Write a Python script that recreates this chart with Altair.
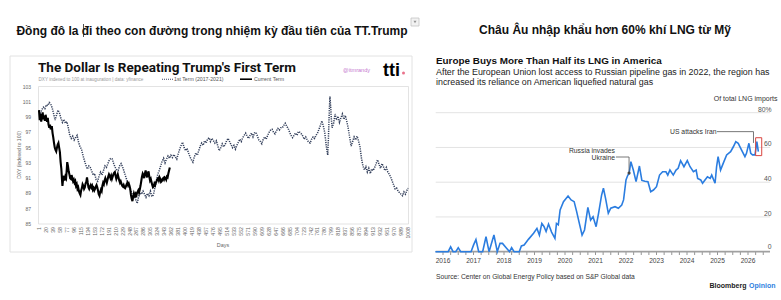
import altair as alt
import pandas as pd

SANS = "Liberation Sans, Arial, Helvetica, sans-serif"
ROBOTO = "Roboto, Liberation Sans, Arial, sans-serif"

# ---------------- DXY indexed to 100 at inauguration ----------------
first_days = [1, 5, 9, 13, 17, 21, 25, 29, 33, 37, 41, 45, 49, 53, 57, 61, 65, 69, 73, 77,
              81, 85, 89, 93, 97, 101, 105, 109, 113, 117, 121, 125, 129, 133, 137, 141, 145, 149, 153, 157,
              161, 165, 169, 173, 177, 181, 185, 189, 193, 197, 201, 205, 209, 213, 217, 221, 225, 229, 233, 237,
              241, 245, 249, 253, 257, 261, 265, 269, 273, 277, 281, 285, 289, 293, 297, 301, 305, 309, 313, 317,
              321, 325, 329, 333, 337, 341, 345, 349, 353, 357, 361, 365, 369, 373, 377, 381, 385, 389, 393, 397,
              401, 405, 409, 413, 417, 421, 425, 429, 433, 437, 441, 445, 449, 453, 457, 461, 465, 469, 473, 477,
              481, 485, 489, 493, 497, 501, 505, 509, 513, 517, 521, 525, 529, 533, 537, 541, 545, 549, 553, 557,
              561, 565, 569, 573, 577, 581, 585, 589, 593, 597, 601, 605, 609, 613, 617, 621, 625, 629, 633, 637,
              641, 645, 649, 653, 657, 661, 665, 669, 673, 677, 681, 685, 689, 693, 697, 701, 705, 709, 713, 717,
              721, 725, 729, 733, 737, 741, 745, 749, 753, 757, 761, 765, 769, 773, 777, 781, 785, 789, 791, 793,
              795, 797, 799, 801, 805, 809, 813, 817, 821, 825, 829, 833, 837, 841, 845, 849, 853, 857, 861, 865,
              869, 873, 877, 881, 885, 889, 893, 897, 901, 905, 909, 913, 917, 921, 925, 929, 933, 937, 941, 945,
              949, 953, 957, 961, 965, 969, 973, 977, 981, 985, 989, 993, 997, 1001, 1005, 1008]
first_vals = [99.8, 99.5, 100.0, 100.3, 100.1, 100.6, 100.5, 100.9, 100.7, 100.2, 99.4, 98.6, 99.3, 99.9, 99.5, 98.8, 98.3, 98.7, 98.2, 98.4,
              97.6, 96.6, 96.2, 96.5, 96.0, 96.3, 96.6, 95.7, 95.1, 94.8, 94.0, 93.3, 92.7, 92.2, 92.6, 92.4, 91.9, 91.4, 91.6, 90.8,
              90.6, 91.3, 91.8, 91.4, 92.0, 92.6, 92.4, 92.9, 93.4, 93.6, 93.5, 92.9, 92.4, 92.1, 92.0, 92.6, 92.9, 92.5, 91.9, 91.3,
              90.7, 90.1, 89.6, 89.2, 88.6, 88.9, 88.2, 87.7, 88.6, 89.1, 88.9, 89.3, 88.9, 88.5, 89.0, 88.7, 89.3, 88.6, 88.8, 89.7,
              90.6, 91.5, 92.0, 92.6, 93.2, 93.6, 93.0, 93.5, 93.9, 93.6, 94.0, 93.7, 94.1, 93.8, 93.5, 94.2, 94.8, 95.3, 95.7, 95.0,
              94.6, 94.9, 94.3, 93.8, 93.4, 93.1, 93.8, 94.3, 94.0, 94.6, 95.2, 95.6, 95.3, 95.9, 95.6, 96.1, 96.3, 95.8, 96.2, 95.9,
              95.6, 95.9, 95.2, 94.6, 95.0, 95.5, 95.1, 95.4, 95.9, 96.2, 95.8, 95.4, 95.0, 95.3, 94.8, 95.3, 95.7, 96.1, 95.8, 96.3,
              96.6, 96.9, 96.5, 96.2, 96.6, 96.9, 96.4, 96.9, 97.0, 96.5, 96.0, 95.8, 95.5, 96.1, 96.4, 96.1, 96.6, 97.0, 97.3, 97.4,
              97.0, 96.8, 97.2, 97.5, 97.3, 97.6, 97.6, 97.9, 98.2, 97.8, 97.5, 97.0, 96.6, 96.3, 96.6, 96.9, 96.6, 97.1, 97.0, 96.8,
              96.5, 96.1, 96.4, 96.0, 95.7, 95.6, 96.1, 96.4, 96.2, 96.6, 96.9, 97.4, 97.9, 98.5, 97.8, 96.9, 95.2, 94.0, 96.5, 99.5,
              101.7, 100.3, 98.6, 97.6, 98.2, 99.4, 98.6, 99.1, 98.3, 98.9, 99.4, 98.7, 99.2, 98.4, 97.5, 96.3, 95.2, 95.8, 96.4, 96.0,
              96.5, 95.9, 95.1, 93.6, 92.6, 92.1, 92.5, 91.8, 92.3, 91.6, 92.2, 92.0, 92.4, 92.9, 93.4, 92.8, 92.3, 92.9, 92.5, 92.0,
              92.4, 91.8, 91.5, 91.1, 90.6, 90.1, 89.6, 89.7, 89.3, 89.1, 88.9, 88.7, 89.2, 88.9, 89.4, 89.7]

curr_days = [1, 3, 5, 7, 9, 11, 13, 15, 17, 19, 21, 23, 25, 27, 29, 31, 33, 36, 38, 40,
             42, 44, 46, 48, 50, 52, 54, 56, 58, 60, 62, 64, 65, 67, 69, 71, 73, 75, 77, 78,
             80, 82, 84, 86, 88, 90, 92, 94, 96, 98, 100, 102, 104, 106, 108, 110, 112, 114, 116, 118,
             120, 122, 124, 126, 128, 130, 132, 134, 136, 138, 140, 142, 144, 146, 148, 150, 152, 154, 156, 158,
             160, 162, 164, 166, 168, 170, 172, 174, 176, 178, 180, 182, 184, 186, 188, 190, 192, 194, 196, 198,
             200, 202, 204, 206, 208, 210, 212, 214, 216, 218, 220, 222, 224, 226, 228, 230, 232, 234, 236, 238,
             240, 242, 244, 246, 248, 250, 252, 254, 256, 258, 260, 262, 264, 266, 268, 270, 272, 274, 276, 278,
             280, 282, 284, 286, 288, 290, 292, 294, 296, 298, 300, 302, 304, 306, 308, 310, 312, 314, 316, 318,
             320, 322, 324, 326, 328, 330, 332, 334, 336, 338, 340, 342, 344, 346, 348, 350, 352, 354, 356, 358]
curr_vals = [99.9, 98.6, 99.4, 98.4, 99.0, 99.6, 98.7, 99.2, 98.5, 99.3, 98.8, 98.4, 98.9, 98.0, 97.6, 98.0, 97.4, 97.8, 96.9, 96.3,
             95.6, 95.0, 94.7, 94.5, 95.0, 95.4, 95.6, 95.0, 94.4, 93.1, 92.2, 90.6, 90.0, 91.0, 91.3, 90.7, 91.2, 91.0, 92.3, 93.1,
             92.6, 91.9, 91.5, 91.0, 90.9, 91.4, 91.0, 90.6, 90.8, 90.4, 90.6, 90.0, 90.2, 89.6, 89.8, 89.3, 89.0, 88.8, 89.4, 89.7,
             90.2, 90.0, 89.6, 89.8, 90.3, 90.5, 91.1, 90.4, 89.8, 89.6, 89.9, 90.1, 89.8, 90.0, 89.5, 89.7, 89.4, 89.6, 89.9, 90.1,
             89.8, 89.4, 88.9, 88.7, 89.2, 89.5, 89.3, 90.0, 90.4, 90.2, 90.7, 91.0, 90.7, 90.4, 90.8, 91.2, 91.5, 91.3, 91.0, 91.3,
             90.9, 91.2, 91.5, 91.7, 91.8, 91.3, 90.9, 91.2, 91.5, 91.1, 90.7, 90.4, 90.6, 90.3, 90.0, 89.9, 90.1, 89.8, 89.7, 89.9,
             90.2, 90.4, 90.1, 90.3, 90.0, 89.6, 88.8, 88.3, 88.0, 88.6, 89.0, 88.7, 88.9, 88.5, 89.0, 89.2, 89.4, 89.1, 89.5, 90.0,
             90.6, 91.2, 91.6, 91.4, 91.0, 91.6, 92.0, 91.5, 91.1, 91.6, 91.9, 91.2, 90.7, 90.9, 90.5, 90.1, 89.8, 89.9, 90.3, 90.1,
             90.4, 90.6, 90.9, 91.0, 90.7, 91.1, 90.9, 90.5, 90.6, 90.9, 91.0, 90.8, 91.1, 91.0, 90.8, 91.2, 91.1, 91.6, 92.0, 92.4]

dxy_ticks = [85, 87, 89, 91, 93, 95, 97, 99, 101, 103]
day_ticks = [1, 20, 39, 58, 77, 96, 115, 134, 153, 172, 191, 210, 229, 248, 267, 286, 305, 324,
             343, 362, 381, 400, 419, 438, 457, 476, 495, 514, 533, 552, 571, 590, 609, 628, 647, 666,
             685, 704, 723, 742, 761, 780, 799, 818, 837, 856, 875, 894, 913, 932, 951, 970, 989, 1008]

# ---------------- Europe's LNG imports from the US (share, %) ----------------
lng_year = [2015.75, 2016.0, 2016.17, 2016.25, 2016.33, 2016.42, 2016.5, 2016.58, 2016.75, 2016.92,
            2017.0, 2017.08, 2017.17, 2017.3, 2017.41, 2017.51, 2017.67, 2017.78, 2017.87, 2017.95,
            2018.07, 2018.18, 2018.25, 2018.33, 2018.5, 2018.57, 2018.66, 2018.8, 2018.97, 2019.08,
            2019.16, 2019.24, 2019.31, 2019.38, 2019.46, 2019.56, 2019.67, 2019.72, 2019.78, 2019.84,
            2019.95, 2020.1, 2020.2, 2020.3, 2020.38, 2020.47, 2020.56, 2020.64, 2020.75, 2020.84,
            2020.92, 2021.02, 2021.1, 2021.2, 2021.26, 2021.33, 2021.42, 2021.5, 2021.64, 2021.75,
            2021.86, 2021.92, 2022.0, 2022.06, 2022.1, 2022.16, 2022.24, 2022.33, 2022.44, 2022.52,
            2022.62, 2022.72, 2022.81, 2022.9, 2023.0, 2023.1, 2023.2, 2023.31, 2023.37, 2023.44,
            2023.55, 2023.64, 2023.71, 2023.79, 2023.9, 2024.01, 2024.1, 2024.21, 2024.3, 2024.35,
            2024.45, 2024.51, 2024.59, 2024.67, 2024.76, 2024.81, 2024.92, 2024.97, 2025.02, 2025.1,
            2025.19, 2025.3, 2025.43, 2025.52, 2025.6, 2025.68, 2025.79, 2025.9, 2025.95, 2026.03,
            2026.09, 2026.15, 2026.23, 2026.29, 2026.34]
lng_share = [0, 0, 0, 2.8, 0, 0, 2.3, 0, 0, 0,
             3.8, 7.0, 0, 0, 8.6, 0, 9.6, 0, 4.8, 4.8,
             2.3, 0, 2.3, 0, 0, 3.3, 3.8, 7.1, 10.6, 13.4,
             9.6, 16.3, 14.5, 11.6, 15.9, 11.3, 7.7, 16.3, 15.5, 24.0,
             28.8, 32.1, 29.8, 28.8, 23.2, 16.3, 9.6, 12.5, 25.5, 18.2,
             20.1, 14.4, 22.1, 32.6, 36.5, 30.7, 22.1, 25.0, 25.9, 25.0,
             26.9, 29.8, 41.3, 44.1, 44.8, 51.8, 47.0, 40.3, 49.3, 41.0,
             40.5, 40.3, 34.5, 35.5, 37.4, 44.1, 46.0, 46.0, 44.1, 47.0,
             44.1, 47.0, 48.0, 52.4, 48.9, 52.4, 48.9, 46.0, 47.0, 42.2,
             41.3, 39.4, 41.3, 43.1, 42.2, 44.1, 39.4, 48.9, 54.7, 47.0,
             51.0, 55.7, 57.6, 60.4, 63.3, 62.4, 58.5, 54.7, 56.6, 62.4,
             56.6, 55.7, 55.7, 63.3, 57.6]
share_grid = [20, 40, 60, 80]
share_labels = ["20", "40", "60", "80%"]
year_ticks = [2016, 2017, 2018, 2019, 2020, 2021, 2022, 2023, 2024, 2025, 2026]
quarter_ticks = [2016.0, 2016.25, 2016.5, 2016.75, 2017.0, 2017.25, 2017.5, 2017.75, 2018.0, 2018.25,
                 2018.5, 2018.75, 2019.0, 2019.25, 2019.5, 2019.75, 2020.0, 2020.25, 2020.5, 2020.75,
                 2021.0, 2021.25, 2021.5, 2021.75, 2022.0, 2022.25, 2022.5, 2022.75, 2023.0, 2023.25,
                 2023.5, 2023.75, 2024.0, 2024.25, 2024.5, 2024.75, 2025.0, 2025.25, 2025.5, 2025.75,
                 2026.0, 2026.25, 2026.5]

# leader lines for the two event notes (year, share)
russia_path_x = [2021.67, 2022.1, 2022.1]
russia_path_y = [54.5, 54.5, 45.3]
iran_path_x = [2024.98, 2026.18, 2026.18]
iran_path_y = [69.1, 69.1, 62.6]
# highlighted latest readings
box_x = [2026.25, 2026.45]
box_y = [55.3, 65.6]

# ---------------- scales: each panel has its own pixel range ----------------
xs_l = alt.Scale(domain=[1, 1008], range=[39, 408], nice=False, zero=False)
ys_l = alt.Scale(domain=[85, 103], range=[224, 86.5], nice=False, zero=False)
xs_r = alt.Scale(domain=[2016, 2026], range=[443, 748], nice=False, zero=False)
ys_r = alt.Scale(domain=[0, 80], range=[251.7, 112.7], nice=False, zero=False)

one = pd.DataFrame({"k": [0]})


def text(t, x, y, size, color="#111", weight="normal", align="left",
         baseline="alphabetic", font=SANS, angle=0):
    return alt.Chart(one).mark_text(
        text=t, fontSize=size, color=color, fontWeight=weight, align=align,
        baseline=baseline, font=font, angle=angle
    ).encode(x=alt.value(x), y=alt.value(y))


def box(x, x2, y, y2, stroke, fill="#ffffff", width=1.0, fill_opacity=1.0):
    return alt.Chart(one).mark_rect(
        stroke=stroke, strokeWidth=width, fill=fill, fillOpacity=fill_opacity
    ).encode(x=alt.value(x), x2=alt.value(x2), y=alt.value(y), y2=alt.value(y2))


layers = []

# --- left panel: headline and framed picture ---
layers.append(text("Đồng đô la đi theo con đường trong nhiệm kỳ đầu tiên của TT.Trump",
                   212, 35, 12, weight="bold", align="center"))
layers.append(alt.Chart(one).mark_rule(color="#222", strokeWidth=0.8).encode(
    x=alt.value(83.5), y=alt.value(24), y2=alt.value(37)))
layers.append(box(411, 419, 18, 26, "#c4c4c4", fill="#f2f2f2", width=0.8))
layers.append(alt.Chart(one).mark_point(shape="triangle-down", filled=True, size=9, color="#6a6a6a").encode(
    x=alt.value(415), y=alt.value(22)))

layers.append(box(10, 412, 56, 252, "#e2e2e2"))
layers.append(box(38.5, 408.5, 86.5, 224, "#dcdcdc", width=0.8))

layers.append(text("The Dollar Is Repeating Trump's First Term", 38, 71.5, 13.5,
                   weight="bold", font=ROBOTO, color="#111"))
layers.append(text("DXY indexed to 100 at inauguration | data: yfinance", 38.5, 81, 4.6, color="#9a9a9a"))
layers.append(alt.Chart(one).mark_rule(color="#3a4664", strokeWidth=1.1, strokeDash=[1, 1]).encode(
    x=alt.value(162), x2=alt.value(173), y=alt.value(79.2)))
layers.append(text("1st Term (2017-2021)", 174, 81, 5.2, color="#555"))
layers.append(alt.Chart(one).mark_rule(color="#000", strokeWidth=1.6).encode(
    x=alt.value(240), x2=alt.value(252), y=alt.value(79.2)))
layers.append(text("Current Term", 254, 81, 5.2, color="#555"))
layers.append(text("@itmrandy", 343, 72, 5.6, color="#c57ad0"))
layers.append(text("tti", 383, 76, 18, weight="bold", color="#000"))
layers.append(alt.Chart(one).mark_point(shape="circle", filled=True, size=9, color="#e0365a").encode(
    x=alt.value(403.5), y=alt.value(73)))

# y tick labels and axis title
df_yt = pd.DataFrame({"v": dxy_ticks, "t": [str(v) for v in dxy_ticks]})
layers.append(alt.Chart(df_yt).mark_text(fontSize=5, color="#666", align="right", baseline="middle",
                                         font=SANS).encode(
    x=alt.value(31), y=alt.Y("v:Q", scale=ys_l, axis=None), text="t:N"))
layers.append(text("DXY (indexed to 100)", 19, 155, 5, color="#666", align="center",
                   baseline="middle", angle=270))

# x tick labels (rotated) and axis title
df_xt = pd.DataFrame({"d": day_ticks, "t": [str(d) for d in day_ticks]})
layers.append(alt.Chart(df_xt).mark_text(fontSize=5.2, color="#666", align="right", baseline="middle",
                                         angle=270, font=SANS).encode(
    x=alt.X("d:Q", scale=xs_l, axis=None), y=alt.value(227), text="t:N"))
layers.append(text("Days", 223, 247, 5.4, color="#666", align="center"))

# the two DXY series
df_first = pd.DataFrame({"day": first_days, "dxy": first_vals})
df_curr = pd.DataFrame({"day": curr_days, "dxy": curr_vals})
layers.append(alt.Chart(df_first).mark_line(color="#34405c", strokeWidth=1.5, strokeDash=[1.2, 1.1]).encode(
    x=alt.X("day:Q", scale=xs_l, axis=None), y=alt.Y("dxy:Q", scale=ys_l, axis=None)))
layers.append(alt.Chart(df_curr).mark_line(color="#000000", strokeWidth=2.1).encode(
    x=alt.X("day:Q", scale=xs_l, axis=None), y=alt.Y("dxy:Q", scale=ys_l, axis=None)))

# --- right panel ---
layers.append(text("Châu Âu nhập khẩu hơn 60% khí LNG từ Mỹ", 605, 34, 12, weight="bold", align="center"))
layers.append(text("Europe Buys More Than Half its LNG in America", 436, 64, 9.9, weight="bold"))
layers.append(text("After the European Union lost access to Russian pipeline gas in 2022, the region has",
                   436, 74.5, 8.9, color="#222"))
layers.append(text("increased its reliance on American liquefied natural gas", 436, 85, 8.9, color="#222"))
layers.append(text("Of total LNG imports", 777.5, 100.5, 7, color="#333", align="right"))

df_grid = pd.DataFrame({"v": share_grid, "t": share_labels})
layers.append(alt.Chart(df_grid).mark_rule(color="#e3e3e3", strokeWidth=1).encode(
    y=alt.Y("v:Q", scale=ys_r, axis=None), x=alt.value(435.7), x2=alt.value(770)))
layers.append(alt.Chart(df_grid).mark_text(fontSize=6.8, color="#555", align="right", dy=-3,
                                           font=SANS).encode(
    y=alt.Y("v:Q", scale=ys_r, axis=None), x=alt.value(771.5), text="t:N"))
layers.append(text("0", 771.5, 248.7, 6.8, color="#555", align="right"))

df_q = pd.DataFrame({"q": quarter_ticks})
layers.append(alt.Chart(df_q).mark_rule(color="#8a8a8a", strokeWidth=0.9).encode(
    x=alt.X("q:Q", scale=xs_r, axis=None), y=alt.value(251), y2=alt.value(255)))
layers.append(alt.Chart(one).mark_rule(color="#a0a0a0", strokeWidth=1.8).encode(
    x=alt.value(435.7), x2=alt.value(770), y=alt.value(251.7)))
df_yr = pd.DataFrame({"y": year_ticks, "t": [str(y) for y in year_ticks]})
layers.append(alt.Chart(df_yr).mark_text(fontSize=6.6, color="#444", align="center", baseline="middle",
                                         font=SANS).encode(
    x=alt.X("y:Q", scale=xs_r, axis=None), y=alt.value(260.5), text="t:N"))

df_lng = pd.DataFrame({"year": lng_year, "share": lng_share})
layers.append(alt.Chart(df_lng).mark_line(color="#2b7de0", strokeWidth=1.6).encode(
    x=alt.X("year:Q", scale=xs_r, axis=None), y=alt.Y("share:Q", scale=ys_r, axis=None)))

df_lead = pd.DataFrame({
    "x": russia_path_x + iran_path_x,
    "y": russia_path_y + iran_path_y,
    "g": ["r"] * 3 + ["i"] * 3,
    "o": [0, 1, 2, 0, 1, 2],
})
layers.append(alt.Chart(df_lead).mark_line(color="#555", strokeWidth=0.8).encode(
    x=alt.X("x:Q", scale=xs_r, axis=None), y=alt.Y("y:Q", scale=ys_r, axis=None),
    detail="g:N", order="o:Q"))
df_dot = pd.DataFrame({"x": [russia_path_x[-1]], "y": [russia_path_y[-1]]})
layers.append(alt.Chart(df_dot).mark_point(filled=True, size=10, color="#444", opacity=1).encode(
    x=alt.X("x:Q", scale=xs_r, axis=None), y=alt.Y("y:Q", scale=ys_r, axis=None)))
layers.append(text("Russia invades", 615, 152.5, 6.8, color="#333", align="right"))
layers.append(text("Ukraine", 615, 159.8, 6.8, color="#333", align="right"))
layers.append(text("US attacks Iran", 716.5, 134, 6.8, color="#333", align="right"))

df_box = pd.DataFrame({"x0": [box_x[0]], "x1": [box_x[1]], "y0": [box_y[0]], "y1": [box_y[1]]})
layers.append(alt.Chart(df_box).mark_rect(stroke="#d9443f", strokeWidth=1, fillOpacity=0).encode(
    x=alt.X("x0:Q", scale=xs_r, axis=None), x2="x1:Q",
    y=alt.Y("y0:Q", scale=ys_r, axis=None), y2="y1:Q"))

layers.append(text("Source: Center on Global Energy Policy based on S&P Global data", 436, 279, 6.7, color="#333"))
layers.append(text("Bloomberg", 746.5, 288, 7, weight="bold", color="#222", align="right"))
layers.append(text("Opinion", 749, 288, 7, weight="bold", color="#2f7fe0"))

chart = alt.layer(*layers).resolve_scale(
    x="independent", y="independent"
).properties(
    width=781, height=300, padding=0, background="#ffffff",
    autosize=alt.AutoSizeParams(type="none")
).configure_view(strokeWidth=0)

chart.save("out.html", embed_options={"renderer": "svg", "actions": False})
